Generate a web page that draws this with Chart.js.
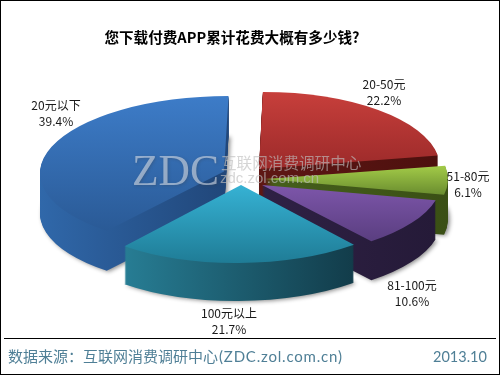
<!DOCTYPE html>
<html><head><meta charset="utf-8">
<style>html,body{margin:0;padding:0;background:#fff}#w{position:absolute;left:0;top:0;width:500px;height:375px}</style>
<script src="https://cdn.jsdelivr.net/npm/chart.js@4/dist/chart.umd.min.js"></script>
</head><body><div id="w"><canvas id="c" width="500" height="375"></canvas></div>
<script>
const categories = ['20-50元','51-80元','81-100元','100元以上','20元以下'];
const shares = [22.2,6.1,10.6,21.7,39.4];
const shareLabels = ['22.2%','6.1%','10.6%','21.7%','39.4%'];
const titleText = '您下载付费APP累计花费大概有多少钱?';
const sourceHead = '数据来源：互联网消费调研中心';
const sourceTail = '(ZDC.zol.com.cn)';
const dateText = '2013.10';

// appearance: one entry per slice, same order as categories
const sliceLook = [
 {cx:259,cy:169,rx:181,ry:77,lean:.05,depth:38,top:['#c73f3b','#9c2a2a'],wall:['#5e1714','#4d100e']},
 {cx:265,cy:179,rx:183,ry:76,lean:0,depth:40,top:['#a3cb48','#6a8d2f'],wall:['#46601c','#3a4f15']},
 {cx:262,cy:185,rx:179,ry:73.5,lean:.1,depth:39,top:['#7d56aa','#5a3e80'],wall:['#2f2145','#251a38']},
 {cx:241,cy:185,rx:182,ry:78,lean:.066,depth:38,top:['#36b2d4','#1f7c96'],wall:['#277d94','#123c4a']},
 {cx:224,cy:171.5,rx:184,ry:75.5,lean:.06,depth:40,top:['#3d7cc8','#2a5a96'],wall:['#3068aa','#21477a']}
];
const paintOrder = [0,4,1,2,3];
const labelSpots = [[384,84],[468,176],[412,285],[229,313],[56,105]];

function yRange(a){
  let lo=1e9,hi=-1e9;
  for(let k=0;k<=60;k++){const t=a.startAngle+(a.endAngle-a.startAngle)*k/60,y=Math.sin(t)*a.outerRadius;lo=Math.min(lo,y);hi=Math.max(hi,y);}
  return [Math.min(lo,0),Math.max(hi,0)];
}
function drawWith(a,fill,ctx){
  const o=a.options,v=Object.create(o);
  Object.defineProperty(v,'backgroundColor',{value:fill});
  a.options=v;a.draw(ctx);a.options=o;
}
const pie3d={id:'pie3d',
 beforeDatasetsDraw(chart){
  const ctx=chart.ctx,arcs=chart.getDatasetMeta(0).data;
  paintOrder.forEach(i=>{
   const a=arcs[i],s=sliceLook[i],R=a.outerRadius,kx=s.rx/R,ky=s.ry/R;
   const place=d=>{ctx.translate(s.cx,s.cy+d);ctx.transform(1,0,-s.lean,1,0,0);ctx.scale(kx,ky);ctx.translate(-a.x,-a.y);};
   const xs=[0,1,2,3,4,5,6,7,8].map(k=>Math.cos(a.startAngle+(a.endAngle-a.startAngle)*k/8)*R);
   const gw=ctx.createLinearGradient(a.x+Math.min(0,...xs),0,a.x+Math.max(0,...xs),0);
   gw.addColorStop(0,s.wall[0]);gw.addColorStop(1,s.wall[1]);
   for(let d=s.depth;d>=1;d--){
     ctx.save();
     if(d===s.depth){ctx.shadowColor='rgba(0,0,0,.45)';ctx.shadowBlur=4;ctx.shadowOffsetX=2;ctx.shadowOffsetY=1;}
     place(d);drawWith(a,gw,ctx);ctx.restore();
   }
   const [lo,hi]=yRange(a);
   const gt=ctx.createLinearGradient(0,a.y+lo,0,a.y+hi);
   gt.addColorStop(0,s.top[0]);gt.addColorStop(1,s.top[1]);
   ctx.save();place(0);drawWith(a,gt,ctx);ctx.restore();
  });
  return false;
 },
 afterDraw(chart){
  const ctx=chart.ctx;ctx.save();
  const zh='"Noto Sans CJK SC","Liberation Sans",sans-serif';
  // watermark
  ctx.textBaseline='alphabetic';ctx.textAlign='left';
  ctx.shadowColor='rgba(60,60,60,.45)';ctx.shadowBlur=3;ctx.shadowOffsetX=1;ctx.shadowOffsetY=1;
  ctx.fillStyle='rgba(215,222,232,.6)';ctx.font='43.5px "Liberation Serif",serif';
  ctx.fillText('ZDC',132,185);
  ctx.shadowColor='rgba(0,0,0,0)';
  ctx.fillStyle='rgba(190,190,190,.65)';ctx.font='15.6px '+zh;
  ctx.fillText('互联网消费调研中心',221,169);
  ctx.font='15px "Liberation Sans",sans-serif';
  ctx.fillText('zdc.zol.com.cn',220,183);
  // title
  ctx.fillStyle='#000';ctx.textAlign='center';ctx.textBaseline='middle';
  ctx.font='bold 14.6px '+zh;ctx.fillText(titleText,232,37);
  // labels
  ctx.font='12px '+zh;ctx.fillStyle='#1a1a1a';
  categories.forEach((n,i)=>{const p=labelSpots[i];ctx.fillText(n,p[0],p[1]);ctx.fillText(shareLabels[i],p[0],p[1]+16.5);});
  // footer
  ctx.strokeStyle='#000';ctx.lineWidth=1;ctx.beginPath();ctx.moveTo(4,338.5);ctx.lineTo(496,338.5);ctx.stroke();
  ctx.fillStyle='#4f7f96';ctx.textAlign='left';ctx.font='15px "Lato","Noto Sans CJK SC",sans-serif';
  ctx.fillText(sourceHead,8,357);
  ctx.letterSpacing='0.8px';
  ctx.fillText(sourceTail,219,357);
  ctx.letterSpacing='0px';
  ctx.font='14.5px "Lato","Noto Sans CJK SC",sans-serif';
  ctx.fillText(dateText,433,357);
  // frame
  ctx.strokeStyle='#000';ctx.strokeRect(.5,.5,499,374);
  ctx.restore();
 }
};
new Chart(document.getElementById('c'),{
 type:'doughnut',
 data:{labels:categories,datasets:[{data:shares,backgroundColor:sliceLook.map(s=>s.top[0]),borderWidth:0,hoverOffset:0}]},
 options:{responsive:false,animation:false,cutout:0,rotation:0,radius:'100%',
  layout:{padding:0},plugins:{legend:{display:false},tooltip:{enabled:false},title:{display:false}}},
 plugins:[pie3d]
});
</script></body></html>
